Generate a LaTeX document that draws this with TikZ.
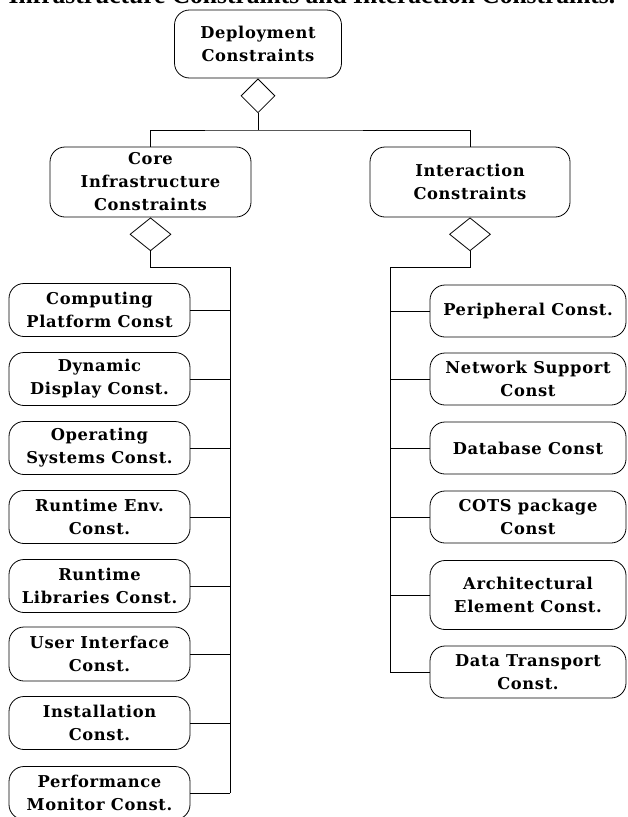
\documentclass[tikz,border=0pt]{standalone}
\usepackage{fontspec}
\setmainfont{DejaVu Serif}
\newfontfamily\boxfont[LetterSpace=4]{DejaVu Serif}
\newfontfamily\headfont{Liberation Serif}
\usetikzlibrary{shapes.geometric}

\tikzset{
  cbox/.style={draw, rounded corners=15pt, align=center, inner sep=0pt,
    line width=0.8pt,
    font=\boxfont\bfseries\fontsize{16.3}{23}\selectfont},
  agg/.style={draw, shape=diamond, inner sep=0pt, line width=0.8pt},
  link/.style={line width=0.9pt}
}

\begin{document}
\begin{tikzpicture}[x=1pt,y=-1pt]
\useasboundingbox (0,0) rectangle (628,817);
\clip (0,0) rectangle (628,817);

% caption line running off the top edge
\node[font=\headfont\bfseries\fontsize{25.5}{28}\selectfont, anchor=base, inner sep=0pt]
  (cap) at (312,3) {Infrastructure Constraints and Interaction Constraints.};

% root and its aggregation diamond
\node[cbox, minimum width=167pt, minimum height=68pt] (dep) at (258,44) {Deployment\\Constraints};
\node[agg, minimum width=34pt, minimum height=34pt, anchor=north] (dd) at (dep.south) {};

% second level
\node[cbox, minimum width=201pt, minimum height=70pt] (core) at (150.5,182) {Core\\Infrastructure\\Constraints};
\node[cbox, minimum width=200pt, minimum height=70pt] (inter) at (470,182) {Interaction\\Constraints};
\node[agg, minimum width=41pt, minimum height=33pt, anchor=north] (cd) at (core.south) {};
\node[agg, minimum width=41pt, minimum height=33pt, anchor=north] (id) at (inter.south) {};

\coordinate (bar) at (258,130);
\draw[link] (dd.south) -- (bar);
\draw[link] (core.north) |- (bar) -| (inter.north);

% left column
\node[cbox, minimum width=181pt, minimum height=53pt] (l1) at (99.5,310) {Computing\\Platform Const};
\node[cbox, minimum width=181pt, minimum height=53pt] (l2) at (99.5,379) {Dynamic\\Display Const.};
\node[cbox, minimum width=181pt, minimum height=53pt] (l3) at (99.5,448) {Operating\\Systems Const.};
\node[cbox, minimum width=181pt, minimum height=53pt] (l4) at (99.5,517) {Runtime Env.\\Const.};
\node[cbox, minimum width=181pt, minimum height=53pt] (l5) at (99.5,586) {Runtime\\Libraries Const.};
\node[cbox, minimum width=181pt, minimum height=54pt] (l6) at (99.5,654) {User Interface\\Const.};
\node[cbox, minimum width=181pt, minimum height=53pt] (l7) at (99.5,723) {Installation\\Const.};
\node[cbox, minimum width=181pt, minimum height=53pt] (l8) at (99.5,793) {Performance\\Monitor Const.};

\coordinate (ltop) at (230,267);
\coordinate (lbot) at (230,793);
\draw[link] (cd.south) |- (ltop) -- (lbot);
\foreach \n in {l1,l2,l3,l4,l5,l6,l7,l8}
  \draw[link] (\n.east) -- (\n.east -| ltop);

% right column
\node[cbox, minimum width=196pt, minimum height=52pt] (r1) at (528,311) {Peripheral Const.};
\node[cbox, minimum width=196pt, minimum height=52pt] (r2) at (528,379) {Network Support\\Const};
\node[cbox, minimum width=196pt, minimum height=52pt] (r3) at (528,448) {Database Const};
\node[cbox, minimum width=196pt, minimum height=52pt] (r4) at (528,517) {COTS package\\Const};
\node[cbox, minimum width=196pt, minimum height=69pt] (r5) at (528,595) {Architectural\\Element Const.};
\node[cbox, minimum width=196pt, minimum height=52pt] (r6) at (528,672) {Data Transport\\Const.};

\coordinate (rtop) at (390,267);
\coordinate (rbot) at (390,672);
\draw[link] (id.south) |- (rtop) -- (rbot);
\foreach \n in {r1,r2,r3,r4,r5,r6}
  \draw[link] (\n.west) -- (\n.west -| rtop);
\end{tikzpicture}
\end{document}
